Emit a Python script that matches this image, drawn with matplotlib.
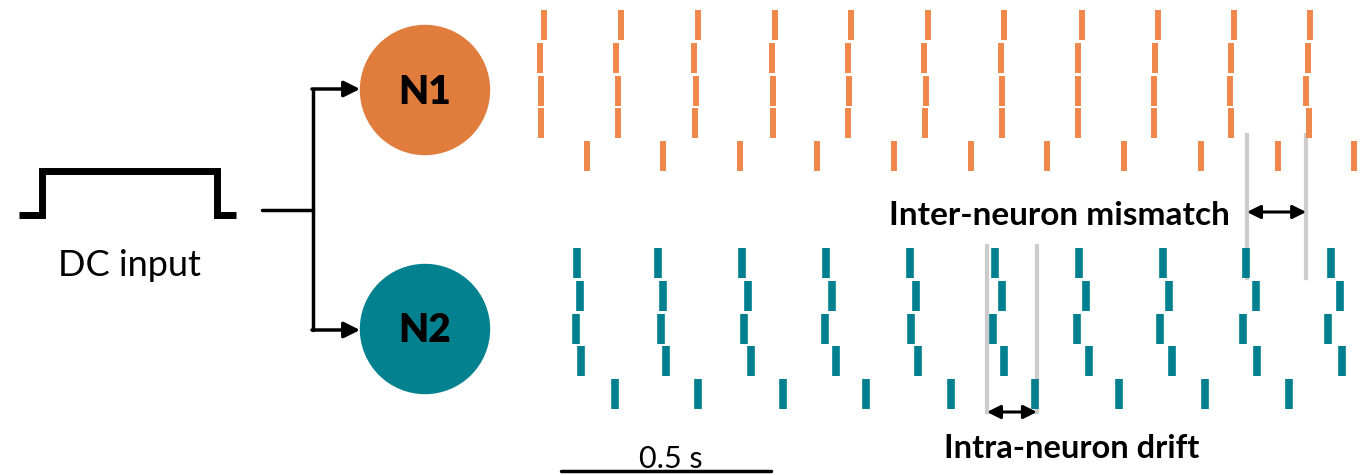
import matplotlib
matplotlib.use("Agg")
import matplotlib.pyplot as plt
from matplotlib.patches import Circle

# spike times (s) for 5 repeated trials of each neuron
n1_trials = [
    [0.033, 0.217, 0.400, 0.583, 0.764, 0.948, 1.129, 1.314, 1.495, 1.676, 1.857],
    [0.024, 0.205, 0.390, 0.576, 0.757, 0.938, 1.121, 1.305, 1.488, 1.669, 1.852],
    [0.026, 0.210, 0.395, 0.579, 0.760, 0.943, 1.124, 1.305, 1.486, 1.667, 1.848],
    [0.026, 0.210, 0.393, 0.579, 0.757, 0.940, 1.124, 1.305, 1.486, 1.669, 1.855],
    [0.136, 0.317, 0.500, 0.683, 0.867, 1.050, 1.231, 1.414, 1.598, 1.781, 1.962],
]
n2_trials = [
    [0.112, 0.305, 0.505, 0.705, 0.905, 1.107, 1.307, 1.507, 1.705, 1.907],
    [0.119, 0.317, 0.519, 0.719, 0.919, 1.124, 1.324, 1.521, 1.729, 1.929],
    [0.110, 0.312, 0.510, 0.702, 0.907, 1.102, 1.302, 1.500, 1.698, 1.900],
    [0.121, 0.324, 0.526, 0.729, 0.924, 1.129, 1.331, 1.529, 1.731, 1.933],
    [0.202, 0.400, 0.602, 0.800, 1.002, 1.202, 1.402, 1.607, 1.807],
]
inter_marks = [1.707, 1.848]   # s, mismatch between N2 and N1
intra_marks = [1.088, 1.207]   # s, drift within N2
scale_bar = 0.5                # s

ORANGE = "#EF884B"
ORANGE_DARK = "#E07C3C"
TEAL = "#00808F"
TEAL_DARK = "#04818F"
GRAY = "#CCCCCC"

plt.rcParams["font.family"] = ["Lato", "DejaVu Sans"]

W, H = 1371, 475
fig = plt.figure(figsize=(W / 100, H / 100), dpi=100)

# left diagram, pixel coordinates
ax = fig.add_axes([0, 0, 1, 1])
ax.set_xlim(0, W)
ax.set_ylim(H, 0)
ax.axis("off")

ax.plot([19, 42, 42, 217, 217, 236], [215, 215, 171, 171, 215, 215],
        color="black", lw=5, solid_joinstyle="miter", solid_capstyle="butt")
ax.text(129, 276, "DC input", fontsize=26, ha="center", va="baseline")

ax.plot([262, 313], [210, 210], color="black", lw=2.5, solid_capstyle="round")
ax.plot([313, 313], [89, 330], color="black", lw=2.5, solid_capstyle="round")
for yy in (89, 330):
    ax.annotate("", xy=(360, yy), xytext=(312, yy),
                arrowprops=dict(arrowstyle="-|>", color="black", lw=2.5,
                                mutation_scale=24, shrinkA=0, shrinkB=0))

for cy, col, lab in [(90, ORANGE_DARK, "N1"), (329, TEAL_DARK, "N2")]:
    ax.add_patch(Circle((425, cy), 64.5, color=col, zorder=3))
    ax.text(425, cy + 2, lab, fontsize=28, fontweight="heavy",
            ha="center", va="center", zorder=4)

# raster, x in seconds
rax = fig.add_axes([530 / W, 0, 840 / W, 1])
rax.set_xlim(0, 2.0)
rax.set_ylim(H, 0)
rax.axis("off")
rax.patch.set_alpha(0)

row_h = 32.75
n1_rows = [25 + row_h * i for i in range(len(n1_trials))]
n2_rows = [263 + row_h * i for i in range(len(n2_trials))]

for t in inter_marks:
    rax.plot([t, t], [135, 278], color=GRAY, lw=3, zorder=1)
for t in intra_marks:
    rax.plot([t, t], [246, 412], color=GRAY, lw=3, zorder=1)

rax.eventplot(n1_trials, lineoffsets=n1_rows, linelengths=30,
              linewidths=4.3, colors=ORANGE, zorder=2)
rax.eventplot(n2_trials, lineoffsets=n2_rows, linelengths=30,
              linewidths=5.5, colors=TEAL, zorder=2)

arrow = dict(arrowstyle="<|-|>", color="black", lw=2.2,
             mutation_scale=20, shrinkA=0, shrinkB=0)
rax.annotate("", xy=(inter_marks[0], 212), xytext=(inter_marks[1], 212),
             arrowprops=arrow)
rax.annotate("", xy=(intra_marks[0], 412), xytext=(intra_marks[1], 412),
             arrowprops=arrow)

rax.text(inter_marks[0] - 0.04, 225, "Inter-neuron mismatch", fontsize=24,
         fontweight="bold", ha="right", va="baseline")
rax.text(1.29, 458, "Intra-neuron drift", fontsize=23.5,
         fontweight="bold", ha="center", va="baseline")

sb0 = 0.073
rax.plot([sb0, sb0 + scale_bar], [471, 471], color="black", lw=2.5,
         solid_capstyle="round")
rax.text(sb0 + scale_bar / 2 + 0.012, 468, "0.5 s", fontsize=22,
         ha="center", va="baseline")

fig.savefig("out.png", dpi=100)
